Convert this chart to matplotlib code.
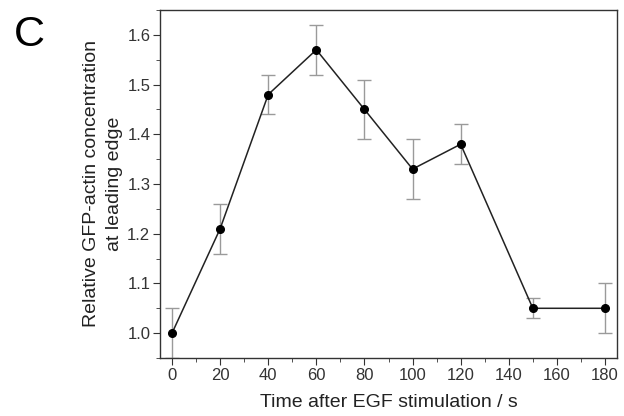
import numpy as np
import matplotlib.pyplot as plt
from matplotlib.ticker import MultipleLocator

plt.rcParams['font.family'] = ['Liberation Sans', 'DejaVu Sans']

# Dados
tempo = [0, 20, 40, 60, 80, 100, 120, 150, 180]
valor = [1.00, 1.21, 1.48, 1.57, 1.45, 1.33, 1.38, 1.05, 1.05]
erro = [0.05, 0.05, 0.04, 0.05, 0.06, 0.06, 0.04, 0.02, 0.05]

fig = plt.figure(figsize=(6.24, 4.16), dpi=100)
ax = fig.add_axes([0.2564, 0.1394, 0.7324, 0.8366])

ax.errorbar(tempo, valor, yerr=erro, fmt='none', ecolor='#9a9a9a',
            elinewidth=1, capsize=5, capthick=1, zorder=2)
ax.plot(tempo, valor, color='#222222', lw=1.1, marker='o', ms=5.5,
        mfc='black', mec='black', zorder=3)

ax.set_xlim(-5, 185)
ax.set_ylim(0.95, 1.65)
ax.set_xticks(np.arange(0, 181, 20))
ax.set_yticks([1.0, 1.1, 1.2, 1.3, 1.4, 1.5, 1.6])
ax.xaxis.set_minor_locator(MultipleLocator(10))
ax.yaxis.set_minor_locator(MultipleLocator(0.05))
ax.tick_params(which='both', direction='out', color='#333333', labelcolor='#333333',
               labelsize=12, top=False, right=False, pad=2)
ax.tick_params(which='major', length=5)
ax.tick_params(which='minor', length=3)
for s in ax.spines.values():
    s.set_color('#333333')
    s.set_linewidth(1)

ax.set_xlabel('Time after EGF stimulation / s', fontsize=14, color='#222222', labelpad=8)
ax.set_ylabel('Relative GFP-actin concentration\nat leading edge', fontsize=14,
              color='#222222', labelpad=3, linespacing=1.45)

fig.text(0.022, 0.965, 'C', fontsize=31, va='top', ha='left')

fig.savefig('out.png', dpi=100)
